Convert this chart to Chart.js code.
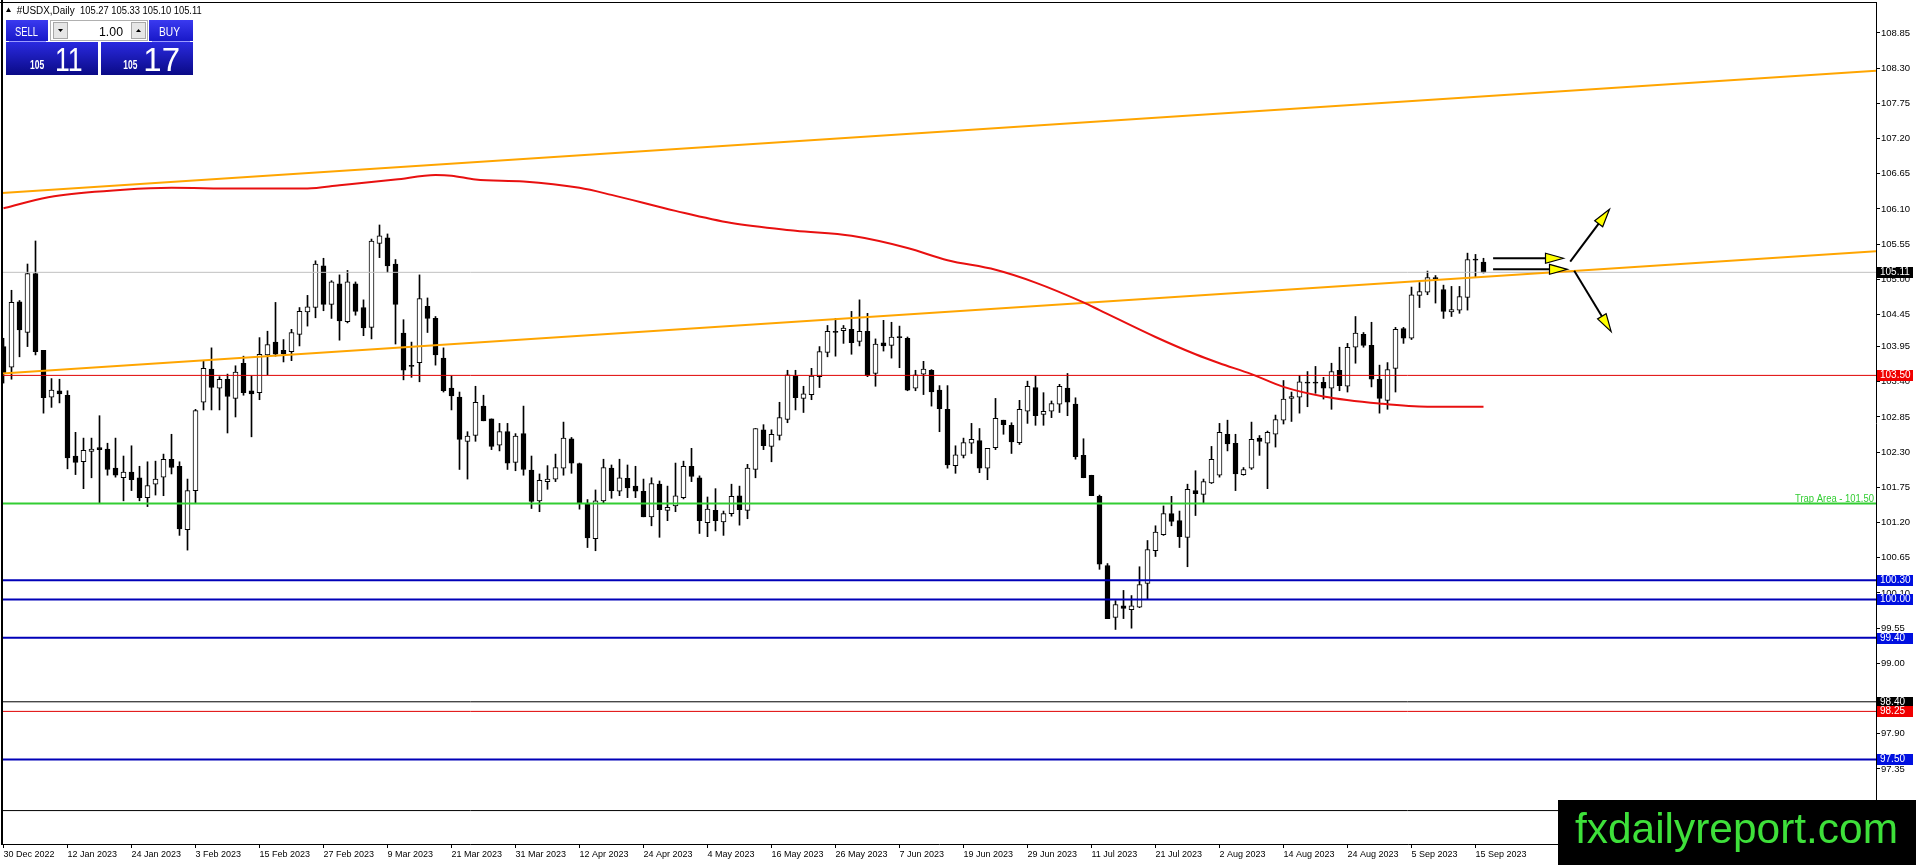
<!DOCTYPE html>
<html><head><meta charset="utf-8">
<script src="https://cdn.jsdelivr.net/npm/chart.js@4.4.1/dist/chart.umd.min.js"></script>
<style>html,body{margin:0;padding:0;background:#fff;overflow:hidden}canvas{display:block}</style>
</head><body>
<canvas id="c" width="1916" height="865" style="width:1916px;height:865px"></canvas>
<script>
// ---------- DATA ----------
const dateTickBars = [0,8,16,24,32,40,48,56,64,72,80,88,96,104,112,120,128,136,144,152,160,168,176,184];
const dateLabels = ['30 Dec 2022','12 Jan 2023','24 Jan 2023','3 Feb 2023','15 Feb 2023','27 Feb 2023','9 Mar 2023','21 Mar 2023','31 Mar 2023','12 Apr 2023','24 Apr 2023','4 May 2023','16 May 2023','26 May 2023','7 Jun 2023','19 Jun 2023','29 Jun 2023','11 Jul 2023','21 Jul 2023','2 Aug 2023','14 Aug 2023','24 Aug 2023','5 Sep 2023','15 Sep 2023'];
const yTicks = [108.85,108.30,107.75,107.20,106.65,106.10,105.55,105.00,104.45,103.95,103.40,102.85,102.30,101.75,101.20,100.65,100.10,99.55,99.00,97.90,97.35];

const opens = [
103.95,103.63,104.65,104.17,105.09,103.89,103.16,103.26,103.19,102.24,
102.15,102.31,102.37,102.35,102.05,101.90,101.99,101.90,101.59,101.80,
101.91,102.19,102.08,101.09,101.70,103.08,103.60,103.30,103.44,103.14,
103.69,103.26,103.23,103.82,104.02,103.89,103.87,104.14,104.49,104.56,
105.21,104.61,104.93,104.34,104.93,104.56,104.25,105.56,105.65,105.24,
104.16,103.65,103.70,104.58,104.39,103.77,103.30,103.16,102.47,102.56,
103.02,102.82,102.41,102.62,102.14,102.59,102.02,101.54,101.84,101.88,
102.05,102.51,102.12,101.50,100.95,101.54,102.05,101.69,101.89,101.77,
101.69,101.29,101.80,101.39,101.46,101.59,102.08,101.90,101.20,101.39,
101.21,101.34,101.62,101.39,102.03,102.65,102.39,102.56,102.81,103.49,
103.14,103.20,103.48,103.86,104.19,104.20,104.22,104.03,104.19,103.53,
104.01,103.97,104.10,104.08,103.30,103.52,103.58,103.27,102.97,102.09,
102.25,102.44,102.48,102.05,102.37,102.80,102.72,102.45,102.94,103.31,
102.89,102.94,103.05,103.30,103.05,102.25,101.94,101.61,100.53,99.72,
99.90,99.84,99.88,100.25,100.76,101.01,101.34,101.23,100.97,101.70,
101.64,101.82,101.94,102.58,102.44,101.95,102.05,102.52,102.44,102.58,
102.80,103.14,103.16,103.39,103.39,103.39,103.30,103.58,103.33,103.94,
104.14,103.97,103.44,103.11,103.61,104.23,104.08,104.75,104.80,105.03,
104.84,104.49,104.52,104.72,105.31,105.27];
const highs = [
104.08,104.83,104.67,105.24,105.60,103.89,103.45,103.44,103.26,102.61,
102.52,102.52,102.87,102.44,102.52,102.24,102.40,102.08,102.15,102.16,
102.27,102.58,102.15,101.88,102.97,103.72,103.93,103.48,103.52,103.65,
103.80,103.49,104.09,104.19,104.64,104.06,104.22,104.56,104.75,105.29,
105.33,104.98,105.07,105.14,104.96,104.68,105.63,105.85,105.71,105.31,
104.37,104.02,105.07,104.71,104.42,103.93,103.49,103.24,102.62,103.33,
103.19,102.82,102.75,102.75,102.59,103.02,102.24,101.96,102.09,102.27,
102.77,102.53,102.13,101.56,101.71,102.19,102.10,102.19,102.10,102.08,
101.88,101.90,101.85,101.77,102.13,102.16,102.36,101.93,101.60,101.73,
101.38,101.80,101.77,102.11,102.67,102.73,102.65,103.08,103.58,103.58,
103.33,103.61,103.95,104.28,104.39,104.28,104.50,104.68,104.47,104.07,
104.36,104.33,104.27,104.10,103.58,103.72,103.59,103.34,103.34,102.40,
102.52,102.75,102.67,102.36,103.14,102.80,102.76,103.11,103.41,103.49,
103.23,103.10,103.36,103.53,103.15,102.51,101.94,101.63,100.56,99.98,
100.14,100.06,100.51,100.92,101.15,101.46,101.61,101.38,101.80,102.01,
101.88,102.39,102.75,102.80,102.58,102.06,102.77,102.56,102.63,102.88,
103.42,103.24,103.50,103.56,103.64,103.47,103.69,103.94,104.00,104.42,
104.17,104.33,103.66,103.70,104.25,104.25,104.88,104.95,105.13,105.06,
104.91,104.89,104.89,105.41,105.39,105.33];
const lows = [
103.38,103.44,103.79,103.95,103.82,102.91,103.00,103.07,102.04,101.95,
101.73,101.90,101.50,101.94,101.91,101.54,101.70,101.54,101.45,101.63,
101.62,101.96,101.00,100.77,101.50,102.96,102.96,102.96,102.60,102.85,
103.19,102.54,103.12,103.51,103.80,103.71,103.73,103.96,104.27,104.40,
104.51,104.39,104.05,104.32,104.44,104.12,104.07,105.34,105.11,103.99,
103.43,103.47,103.40,104.17,103.66,103.24,102.96,102.03,101.88,102.47,
102.79,102.34,102.32,102.03,102.01,101.94,101.42,101.37,101.72,101.84,
101.94,101.97,101.41,100.81,100.76,101.51,101.58,101.62,101.59,101.59,
101.29,101.15,100.97,101.23,101.37,101.57,101.84,101.03,100.98,101.07,
101.00,101.30,101.16,101.26,101.90,102.34,102.15,102.49,102.76,102.96,
102.92,103.12,103.31,103.79,103.80,104.00,103.83,103.96,103.48,103.33,
103.88,103.77,103.62,103.26,103.26,103.20,103.02,102.62,102.05,101.97,
102.21,102.28,101.98,101.87,102.34,102.58,102.28,102.42,102.75,102.72,
102.72,102.84,102.92,102.87,102.19,101.90,101.62,100.47,99.70,99.53,
99.70,99.55,99.87,100.01,100.67,101.00,101.15,100.81,100.51,101.31,
101.51,101.81,101.91,102.32,101.70,101.94,102.03,102.25,101.73,102.38,
102.74,102.78,102.91,103.01,103.22,103.13,102.97,103.26,103.24,103.69,
103.94,103.32,102.91,102.97,103.24,104.00,104.06,104.56,104.76,104.63,
104.39,104.42,104.47,104.52,105.03,105.10];
const closes = [
103.53,104.64,104.21,105.09,103.87,103.15,103.27,103.21,102.21,102.14,
102.33,102.35,102.34,102.03,101.94,101.99,101.87,101.59,101.78,101.88,
102.19,102.06,101.10,101.70,102.95,103.61,103.31,103.44,103.17,103.55,
103.23,103.21,103.83,103.98,103.83,103.84,104.17,104.50,104.57,105.24,
104.61,104.96,104.35,104.96,104.50,104.24,105.60,105.68,105.21,104.61,
103.58,103.64,104.70,104.39,103.82,103.26,103.18,102.50,102.55,103.08,
102.79,102.39,102.62,102.13,102.55,102.03,101.53,101.86,101.88,102.06,
102.52,102.13,101.50,100.96,101.54,102.06,101.70,101.90,101.74,101.69,
101.29,101.81,101.40,101.44,101.62,102.08,101.92,101.23,101.41,101.23,
101.34,101.61,101.40,102.05,102.67,102.40,102.58,102.84,103.51,103.15,
103.21,103.49,103.87,104.19,104.17,104.24,104.01,104.19,103.50,103.99,
103.96,104.10,104.09,103.27,103.51,103.60,103.24,102.98,102.10,102.26,
102.45,102.50,102.05,102.36,102.83,102.73,102.46,102.97,103.33,102.87,
102.94,103.06,103.33,103.08,102.23,101.90,101.62,100.55,99.70,99.92,
99.86,99.90,100.23,100.78,101.05,101.34,101.22,100.98,101.72,101.65,
101.84,102.19,102.61,102.43,101.96,102.03,102.50,102.47,102.61,102.81,
103.13,103.17,103.40,103.38,103.38,103.30,103.56,103.34,103.94,104.16,
103.97,103.44,103.14,103.59,104.22,104.08,104.76,104.81,105.03,105.01,
104.50,104.53,104.73,105.31,105.30,105.11];

// moving average (read at selected bars)
const maBars   = [0,4,7,15,21,29,34,38,42,49,54,56,59,65,72,76,84,91,99,106,113,118,124,129,135,137,144,149,152,156,160,165,172,178,185];
const maValues = [106.11,106.24,106.31,106.40,106.43,106.42,106.42,106.42,106.47,106.56,106.63,106.62,106.56,106.53,106.43,106.32,106.07,105.88,105.76,105.68,105.49,105.30,105.15,104.95,104.64,104.52,104.10,103.83,103.69,103.52,103.32,103.17,103.06,103.01,103.01];

// channel trend lines
const channelBars  = [-0.1875, 234.0625];
const lowerChannel = [103.53, 105.44];
const upperChannel = [106.35, 108.26];

// horizontal levels
const levelValues = [105.11, 103.50, 101.50, 100.30, 100.00, 99.40, 98.40, 98.25, 97.50, 96.70];
const trapText = 'Trap Area - 101.50';

// arrows (bar index / price)
const arrowFromBar   = [186.2, 186.2, 195.84, 196.34];
const arrowFromPrice = [105.33, 105.157, 105.277, 105.136];
const arrowToBar     = [195.0, 195.5, 200.75, 200.96];
const arrowToPrice   = [105.33, 105.157, 106.095, 104.183];

const headerSymbol = '#USDX,Daily';
const headerOHLC = '105.27 105.33 105.10 105.11';
const bidBig = '105', bidSmall = '11', askBig = '105', askSmall = '17';
const lotText = '1.00';

// ---------- STYLES ----------
const X_MIN = -0.1875, X_MAX = 234.0625;
const Y_MIN = 96.178, Y_MAX = 109.334;
const BLUE = '#0000b8', BLUEBOX = '#0010e0', RED = '#e00000', REDBOX = '#f00000', GREEN = '#32cd32';
const levelStyle = [
  {color:'#c0c0c0', width:1, box:'#000000'},
  {color:RED, width:1, box:REDBOX},
  {color:GREEN, width:2, box:null},
  {color:BLUE, width:2, box:BLUEBOX},
  {color:BLUE, width:2, box:BLUEBOX},
  {color:BLUE, width:2, box:BLUEBOX},
  {color:'#000000', width:1, box:'#000000'},
  {color:RED, width:1, box:REDBOX},
  {color:BLUE, width:2, box:BLUEBOX},
  {color:'#000000', width:1, box:null}
];
const FONT = 'Liberation Sans, Arial, sans-serif';

// ---------- BUILD ----------
const idx = opens.map((_, i) => i);
const wickData = idx.map(i => ({x:i, y:[lows[i], highs[i]]}));
const bodyData = idx.map(i => ({x:i, y:[Math.min(opens[i], closes[i]), Math.max(opens[i], closes[i])]}));
const bodyFill = idx.map(i => closes[i] > opens[i] ? '#ffffff' : '#000000');

const datasets = [
  {type:'bar', data:wickData, backgroundColor:'#000', borderWidth:0, barThickness:1, grouped:false, order:10},
  {type:'bar', data:bodyData, backgroundColor:bodyFill, borderColor:'#000', borderWidth:1, borderSkipped:false, barThickness:5, grouped:false, minBarLength:1, order:9}
];
levelValues.forEach((v, k) => {
  datasets.push({type:'line', data:[{x:X_MIN, y:v},{x:X_MAX, y:v}], borderColor:levelStyle[k].color, borderWidth:levelStyle[k].width, pointRadius:0, order:5});
});
datasets.push({type:'line', data:channelBars.map((b,k)=>({x:b, y:lowerChannel[k]})), borderColor:'#ffa500', borderWidth:2, pointRadius:0, order:4});
datasets.push({type:'line', data:channelBars.map((b,k)=>({x:b, y:upperChannel[k]})), borderColor:'#ffa500', borderWidth:2, pointRadius:0, order:4});
datasets.push({type:'line', data:maBars.map((b,k)=>({x:b, y:maValues[k]})), borderColor:'#e81010', borderWidth:2, pointRadius:0, tension:0.3, cubicInterpolationMode:'monotone', order:3});

function fitText(ctx, txt, x, y, w, font, color) {
  ctx.save();
  ctx.font = font; ctx.fillStyle = color; ctx.textBaseline = 'alphabetic'; ctx.textAlign = 'left';
  const m = ctx.measureText(txt).width;
  ctx.translate(x, y); ctx.scale(w / m, 1);
  ctx.fillText(txt, 0, 0);
  ctx.restore();
}
function drawArrow(ctx, x1, y1, x2, y2) {
  const a = Math.atan2(y2 - y1, x2 - x1), L = 18, W = 5;
  const bx = x2 - L * Math.cos(a), by = y2 - L * Math.sin(a);
  ctx.save();
  ctx.strokeStyle = '#000'; ctx.lineWidth = 2;
  ctx.beginPath(); ctx.moveTo(x1, y1); ctx.lineTo(bx, by); ctx.stroke();
  ctx.beginPath();
  ctx.moveTo(x2, y2);
  ctx.lineTo(bx + W * Math.sin(a), by - W * Math.cos(a));
  ctx.lineTo(bx - W * Math.sin(a), by + W * Math.cos(a));
  ctx.closePath();
  ctx.fillStyle = '#ffff00'; ctx.fill();
  ctx.lineWidth = 1.2; ctx.stroke();
  ctx.restore();
}
function grad(ctx, y0, y1, c0, c1) { const g = ctx.createLinearGradient(0, y0, 0, y1); g.addColorStop(0, c0); g.addColorStop(1, c1); return g; }

const overlay = {
  id: 'overlay',
  afterDatasetsDraw(chart) {
    const {ctx, scales:{x, y}, chartArea} = chart;
    for (let k = 0; k < arrowFromBar.length; k++) {
      drawArrow(ctx, x.getPixelForValue(arrowFromBar[k]), y.getPixelForValue(arrowFromPrice[k]),
                     x.getPixelForValue(arrowToBar[k]), y.getPixelForValue(arrowToPrice[k]));
    }
    const ty = y.getPixelForValue(levelValues[2]) - 1.5;
    fitText(ctx, trapText, chartArea.right - 81, ty, 79, '10px ' + FONT, GREEN);
  },
  afterDraw(chart) {
    const {ctx, scales:{y}, chartArea} = chart;
    ctx.save();
    // frame
    ctx.fillStyle = '#000';
    ctx.fillRect(1, 0, 2, chartArea.bottom + 1);
    ctx.fillRect(0, 2, chartArea.right, 1);
    // axis price boxes
    levelValues.forEach((v, k) => {
      const st = levelStyle[k];
      if (!st.box) return;
      const py = Math.round(y.getPixelForValue(v));
      ctx.fillStyle = st.box;
      ctx.fillRect(chartArea.right + 1, py - 5, 36, 11);
      ctx.fillStyle = '#fff';
      ctx.font = '10px ' + FONT; ctx.textBaseline = 'middle'; ctx.textAlign = 'left';
      ctx.fillText(v.toFixed(2), chartArea.right + 4, py + 0.5);
    });
    // header text
    ctx.fillStyle = '#000';
    ctx.beginPath(); ctx.moveTo(6, 12); ctx.lineTo(11, 12); ctx.lineTo(8.5, 7.5); ctx.closePath(); ctx.fill();
    fitText(ctx, headerSymbol, 16.7, 13.5, 58, '10px ' + FONT, '#000');
    fitText(ctx, headerOHLC, 80, 13.5, 121.7, '10px ' + FONT, '#000');
    // big price boxes
    ctx.fillStyle = grad(ctx, 42, 75, '#2a2ae0', '#0a0a86');
    ctx.fillRect(6, 42, 92, 33);
    ctx.fillRect(101, 42, 92, 33);
    // sell/buy buttons
    ctx.fillStyle = grad(ctx, 20, 41, '#3a3af0', '#1818c8');
    ctx.fillRect(6, 20, 42, 21);
    ctx.fillRect(149, 20, 44, 21);
    ctx.fillStyle = '#9a9aff';
    ctx.fillRect(9, 41, 37, 1);
    ctx.fillRect(152, 41, 38, 1);
    // lot control
    ctx.fillStyle = '#ffffff'; ctx.fillRect(50, 20, 98, 21);
    ctx.strokeStyle = '#b0b0b0'; ctx.lineWidth = 1; ctx.strokeRect(50.5, 20.5, 97, 20);
    ctx.fillStyle = '#e6e6e6'; ctx.fillRect(53, 22, 15, 17); ctx.fillRect(131, 22, 15, 17);
    ctx.strokeStyle = '#a8a8a8'; ctx.strokeRect(53.5, 22.5, 14, 16); ctx.strokeRect(131.5, 22.5, 14, 16);
    ctx.fillStyle = '#000';
    ctx.beginPath(); ctx.moveTo(58, 29); ctx.lineTo(63, 29); ctx.lineTo(60.5, 32); ctx.closePath(); ctx.fill();
    ctx.beginPath(); ctx.moveTo(136, 32); ctx.lineTo(141, 32); ctx.lineTo(138.5, 29); ctx.closePath(); ctx.fill();
    fitText(ctx, lotText, 99, 36, 24, '13px ' + FONT, '#000');
    fitText(ctx, 'SELL', 15, 36, 23, '13px ' + FONT, '#fff');
    fitText(ctx, 'BUY', 159, 36, 21, '13px ' + FONT, '#fff');
    fitText(ctx, bidBig, 30, 69, 14.3, 'bold 12px ' + FONT, '#fff');
    fitText(ctx, bidSmall, 55, 71, 27.7, '33px ' + FONT, '#fff');
    fitText(ctx, askBig, 123.3, 69, 14, 'bold 12px ' + FONT, '#fff');
    fitText(ctx, askSmall, 143.3, 71, 36.7, '33px ' + FONT, '#fff');
    // watermark
    ctx.fillStyle = '#000'; ctx.fillRect(1558, 800, 358, 65);
    fitText(ctx, 'fxdailyreport.com', 1575, 843, 323, '42px ' + FONT, '#3ee03a');
    ctx.restore();
  }
};

new Chart(document.getElementById('c'), {
  type: 'bar',
  data: {datasets},
  plugins: [overlay],
  options: {
    responsive: false, animation: false, devicePixelRatio: 1,
    layout: {padding: {left: 2, top: 2, right: 0, bottom: 0}},
    plugins: {legend: {display: false}, tooltip: {enabled: false}},
    events: [],
    scales: {
      x: {
        type: 'linear', min: X_MIN, max: X_MAX, offset: false,
        afterBuildTicks: s => { s.ticks = dateTickBars.map(v => ({value: v})); },
        afterFit: s => { s.height = 21; s.paddingLeft = 0; s.paddingRight = 0; },
        ticks: {callback: (v, i) => dateLabels[i], align: 'start', autoSkip: false, maxRotation: 0, minRotation: 0,
                font: {family: FONT, size: 9}, color: '#000', padding: 1},
        grid: {drawOnChartArea: false, drawTicks: true, tickLength: 4, color: '#000', offset: false},
        border: {display: true, color: '#000', width: 1}
      },
      y: {
        type: 'linear', position: 'right', min: Y_MIN, max: Y_MAX,
        afterBuildTicks: s => { s.ticks = yTicks.map(v => ({value: v})); },
        afterFit: s => { s.width = 40; s.paddingTop = 0; s.paddingBottom = 0; },
        ticks: {callback: v => Number(v).toFixed(2), autoSkip: false, font: {family: FONT, size: 9.5}, color: '#000', padding: 1},
        grid: {drawOnChartArea: false, drawTicks: true, tickLength: 4, color: '#000'},
        border: {display: true, color: '#000', width: 1}
      }
    }
  }
});
</script>
</body></html>
